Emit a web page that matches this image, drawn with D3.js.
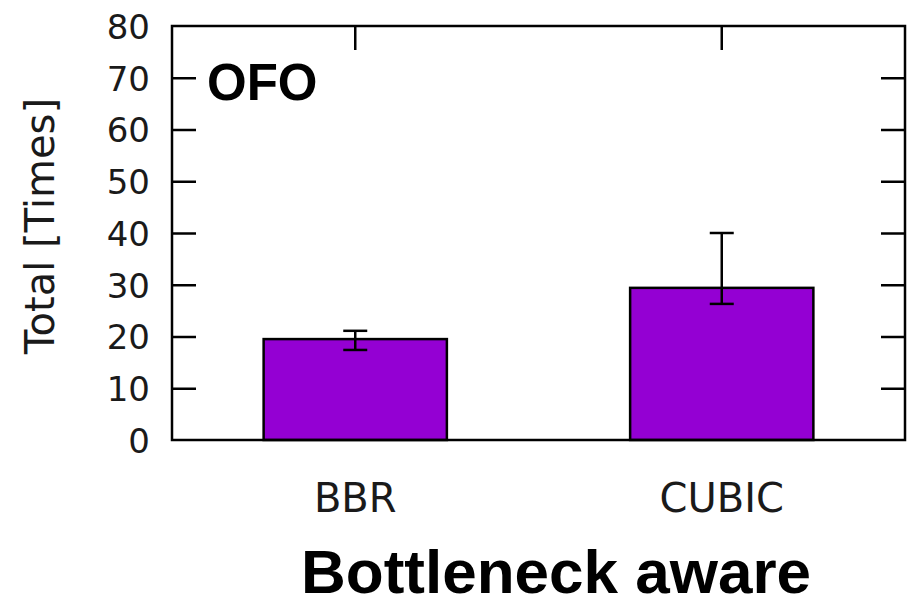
<!DOCTYPE html>
<html>
<head>
<meta charset="utf-8">
<script src="https://cdn.jsdelivr.net/npm/d3@7"></script>
<style>
    body { margin: 0; background: #fff; }
    svg text { font-family: "DejaVu Sans", sans-serif; }
</style>
</head>
<body>
<div id="chart"></div>
<script>
// data
const categories = ["BBR", "CUBIC"];
const totals = [19.5, 29.4];
const errLow = [17.4, 26.3];
const errHigh = [21.1, 40.0];
const yTicks = [0, 10, 20, 30, 40, 50, 60, 70, 80];

const margin = {top: 26, right: 6, bottom: 163, left: 172},
    width = 911 - margin.left - margin.right,
    height = 603 - margin.top - margin.bottom;

const rows = categories.map((c, i) => ({
    name: c, total: totals[i], lo: errLow[i], hi: errHigh[i]
}));

const svg = d3.select("#chart")
    .append("svg")
    .attr("width", 911)
    .attr("height", 603)
    .append("g")
    .attr("transform", "translate(" + margin.left + "," + margin.top + ")");

const x = d3.scaleBand()
    .domain(categories)
    .range([0, width])
    .paddingInner(0.5)
    .paddingOuter(0.25);

const y = d3.scaleLinear()
    .domain([0, 80])
    .range([height, 0]);

const tickLen = 24;

// bars
svg.append("g")
    .selectAll("rect")
    .data(rows)
    .enter().append("rect")
    .attr("x", d => x(d.name))
    .attr("y", d => y(d.total))
    .attr("width", x.bandwidth())
    .attr("height", d => y(0) - y(d.total))
    .attr("fill", "#9400d3")
    .attr("stroke", "#000")
    .attr("stroke-width", 2.5);

// error bars
const err = svg.append("g")
    .attr("stroke", "#000")
    .attr("stroke-width", 2.5)
    .selectAll("g")
    .data(rows)
    .enter().append("g")
    .attr("transform", d => "translate(" + (x(d.name) + x.bandwidth() / 2) + ",0)");
err.append("line")
    .attr("y1", d => y(d.lo)).attr("y2", d => y(d.hi));
err.append("line")
    .attr("x1", -12).attr("x2", 12)
    .attr("y1", d => y(d.lo)).attr("y2", d => y(d.lo));
err.append("line")
    .attr("x1", -12).attr("x2", 12)
    .attr("y1", d => y(d.hi)).attr("y2", d => y(d.hi));

// axes: ticks drawn inward, mirrored on the right and top
const yAxis = d3.axisLeft(y).tickValues(yTicks).tickSize(-tickLen).tickPadding(22);
const gy = svg.append("g").call(yAxis);
gy.select(".domain").remove();
gy.selectAll(".tick line").attr("stroke", "#000").attr("stroke-width", 2.5)
    .filter(d => d === 0 || d === 80).remove();
gy.selectAll(".tick text").attr("fill", "#1a1a1a").style("font-size", "34px")
    .attr("font-family", null).attr("dy", "0.36em");

const gyr = svg.append("g").attr("transform", "translate(" + width + ",0)")
    .call(d3.axisRight(y).tickValues(yTicks).tickSize(-tickLen).tickFormat(""));
gyr.select(".domain").remove();
gyr.selectAll(".tick line").attr("stroke", "#000").attr("stroke-width", 2.5)
    .filter(d => d === 0 || d === 80).remove();

const gx = svg.append("g").attr("transform", "translate(0," + height + ")")
    .call(d3.axisBottom(x).tickSize(0).tickPadding(44));
gx.select(".domain").remove();
gx.selectAll(".tick text").attr("fill", "#1a1a1a").style("font-size", "40px").attr("font-family", null);

const gxt = svg.append("g")
    .call(d3.axisTop(x).tickSize(-tickLen).tickFormat(""));
gxt.select(".domain").remove();
gxt.selectAll(".tick line").attr("stroke", "#000").attr("stroke-width", 2.5);

// frame
svg.append("rect")
    .attr("width", width)
    .attr("height", height)
    .attr("fill", "none")
    .attr("stroke", "#000")
    .attr("stroke-width", 2.5);

// labels
svg.append("text")
    .attr("transform", "translate(" + (40 - margin.left) + "," + (226 - margin.top) + ") rotate(-90)")
    .attr("text-anchor", "middle")
    .attr("dy", "0.36em")
    .attr("fill", "#1a1a1a")
    .style("font-size", "40px")
    .text("Total [Times]");

svg.append("text")
    .attr("x", 207 - margin.left)
    .attr("y", 100 - margin.top)
    .style("font-family", "'Liberation Sans', Arial, sans-serif")
    .style("font-weight", "bold")
    .style("font-size", "51px")
    .text("OFO");

svg.append("text")
    .attr("x", 556 - margin.left)
    .attr("y", 593 - margin.top)
    .attr("text-anchor", "middle")
    .style("font-family", "'Liberation Sans', Arial, sans-serif")
    .style("font-weight", "bold")
    .style("font-size", "62px")
    .text("Bottleneck aware");
</script>
</body>
</html>
